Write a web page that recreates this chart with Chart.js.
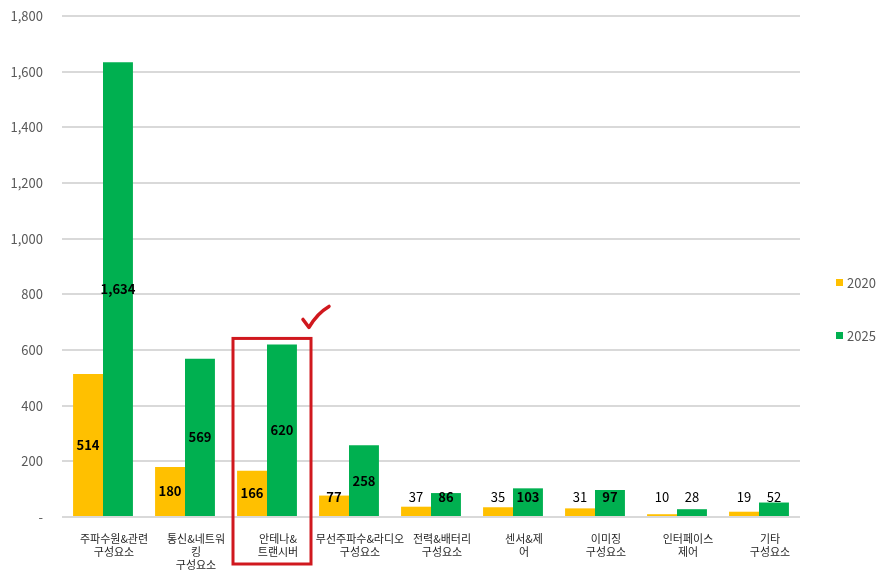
<!DOCTYPE html>
<html>
<head>
<meta charset="utf-8">
<script src="https://cdn.jsdelivr.net/npm/chart.js@4.4.1/dist/chart.umd.min.js"></script>
<style>
  html,body{margin:0;padding:0;background:#fff;}
  #wrap{position:relative;width:885px;height:575px;}
  canvas{display:block;}
  .lg{position:absolute;left:836px;font:13px "Noto Sans CJK KR","Noto Sans",sans-serif;color:#595959;display:flex;align-items:center;}
  .lg span.sw{display:inline-block;width:7px;height:7px;margin-right:4px;}
</style>
</head>
<body>
<div id="wrap">
  <canvas id="c" width="885" height="575"></canvas>
  <div class="lg" id="lg0" style="top:273px;"><span class="sw" style="background:#FFC000"></span><span id="lgt0"></span></div>
  <div class="lg" id="lg1" style="top:326px;"><span class="sw" style="background:#00B050"></span><span id="lgt1"></span></div>
</div>
<script>
const categories = [
  ['주파수원&관련','구성요소'],
  ['통신&네트워','킹','구성요소'],
  ['안테나&','트랜시버'],
  ['무선주파수&라디오','구성요소'],
  ['전력&배터리','구성요소'],
  ['센서&제','어'],
  ['이미징','구성요소'],
  ['인터페이스','제어'],
  ['기타','구성요소']
];
const seriesNames = ['2020', '2025'];
const values2020 = [514, 180, 166, 77, 37, 35, 31, 10, 19];
const values2025 = [1634, 569, 620, 258, 86, 103, 97, 28, 52];
const yTicks = [0, 200, 400, 600, 800, 1000, 1200, 1400, 1600, 1800];
const highlightIndex = 2;

document.getElementById('lgt0').textContent = seriesNames[0];
document.getElementById('lgt1').textContent = seriesNames[1];

const FONT = '"Noto Sans CJK KR","Noto Sans",sans-serif';

const labelPlugin = {
  id: 'valueLabels',
  afterDatasetsDraw(chart) {
    const ctx = chart.ctx;
    const y = chart.scales.y;
    ctx.save();
    ctx.fillStyle = '#000';
    ctx.textAlign = 'center';
    ctx.textBaseline = 'middle';
    chart.data.datasets.forEach((ds, di) => {
      const meta = chart.getDatasetMeta(di);
      meta.data.forEach((bar, i) => {
        const v = ds.data[i];
        let yy = (bar.y + bar.base) / 2;
        const minY = y.getPixelForValue(70);
        if (yy > minY) yy = minY;
        const inside = yy >= bar.y;
        ctx.font = (inside ? 'bold ' : '') + '13px ' + FONT;
        ctx.fillText(v.toLocaleString('en-US'), bar.x, yy);
      });
    });
    ctx.restore();
  }
};

const highlightPlugin = {
  id: 'highlight',
  afterDraw(chart) {
    const ctx = chart.ctx;
    const xs = chart.scales.x, ys = chart.scales.y;
    const cx = xs.getPixelForValue(highlightIndex) + 5;
    const top = ys.getPixelForValue(values2025[highlightIndex]) - 6;
    const bottom = ys.bottom + 47;
    ctx.save();
    ctx.strokeStyle = '#D0181E';
    ctx.lineWidth = 3;
    ctx.strokeRect(cx - 39, top, 78, bottom - top);
    // check mark
    const bx = cx + 37, by = top - 11;
    ctx.lineCap = 'round';
    ctx.lineJoin = 'round';
    ctx.lineWidth = 3.5;
    ctx.beginPath();
    ctx.moveTo(bx - 6, by - 8);
    ctx.lineTo(bx, by);
    ctx.quadraticCurveTo(bx + 8, by - 14, bx + 20, by - 21);
    ctx.stroke();
    ctx.restore();
  }
};

new Chart(document.getElementById('c'), {
  type: 'bar',
  data: {
    labels: categories,
    datasets: [
      { label: seriesNames[0], data: values2020, backgroundColor: '#FFC000', categoryPercentage: 0.73, barPercentage: 1.0 },
      { label: seriesNames[1], data: values2025, backgroundColor: '#00B050', categoryPercentage: 0.73, barPercentage: 1.0 }
    ]
  },
  options: {
    responsive: false,
    animation: false,
    devicePixelRatio: 1,
    layout: { padding: { top: 16, right: 85, bottom: 0, left: 0 } },
    plugins: { legend: { display: false }, tooltip: { enabled: false } },
    scales: {
      x: {
        grid: { display: false, drawTicks: false },
        border: { display: false },
        ticks: {
          color: '#262626',
          font: { family: FONT, size: 11 },
          padding: 15,
          maxRotation: 0, minRotation: 0, autoSkip: false,
          labelOffset: 11
        },
        afterFit(s) { s.height = 58; s.paddingLeft = 0; s.paddingRight = 0; }
      },
      y: {
        min: 0, max: 1800,
        afterBuildTicks(s) { s.ticks = yTicks.map(v => ({ value: v })); },
        grid: { color: '#D9D9D9', lineWidth: 2, drawTicks: false },
        border: { display: false },
        ticks: {
          color: '#595959',
          font: { family: FONT, size: 13 },
          padding: 19,
          callback: v => v === 0 ? '-' : v.toLocaleString('en-US')
        },
        afterFit(s) { s.width = 62; s.paddingTop = 0; s.paddingBottom = 0; }
      }
    }
  },
  plugins: [labelPlugin, highlightPlugin]
});
</script>
</body>
</html>
